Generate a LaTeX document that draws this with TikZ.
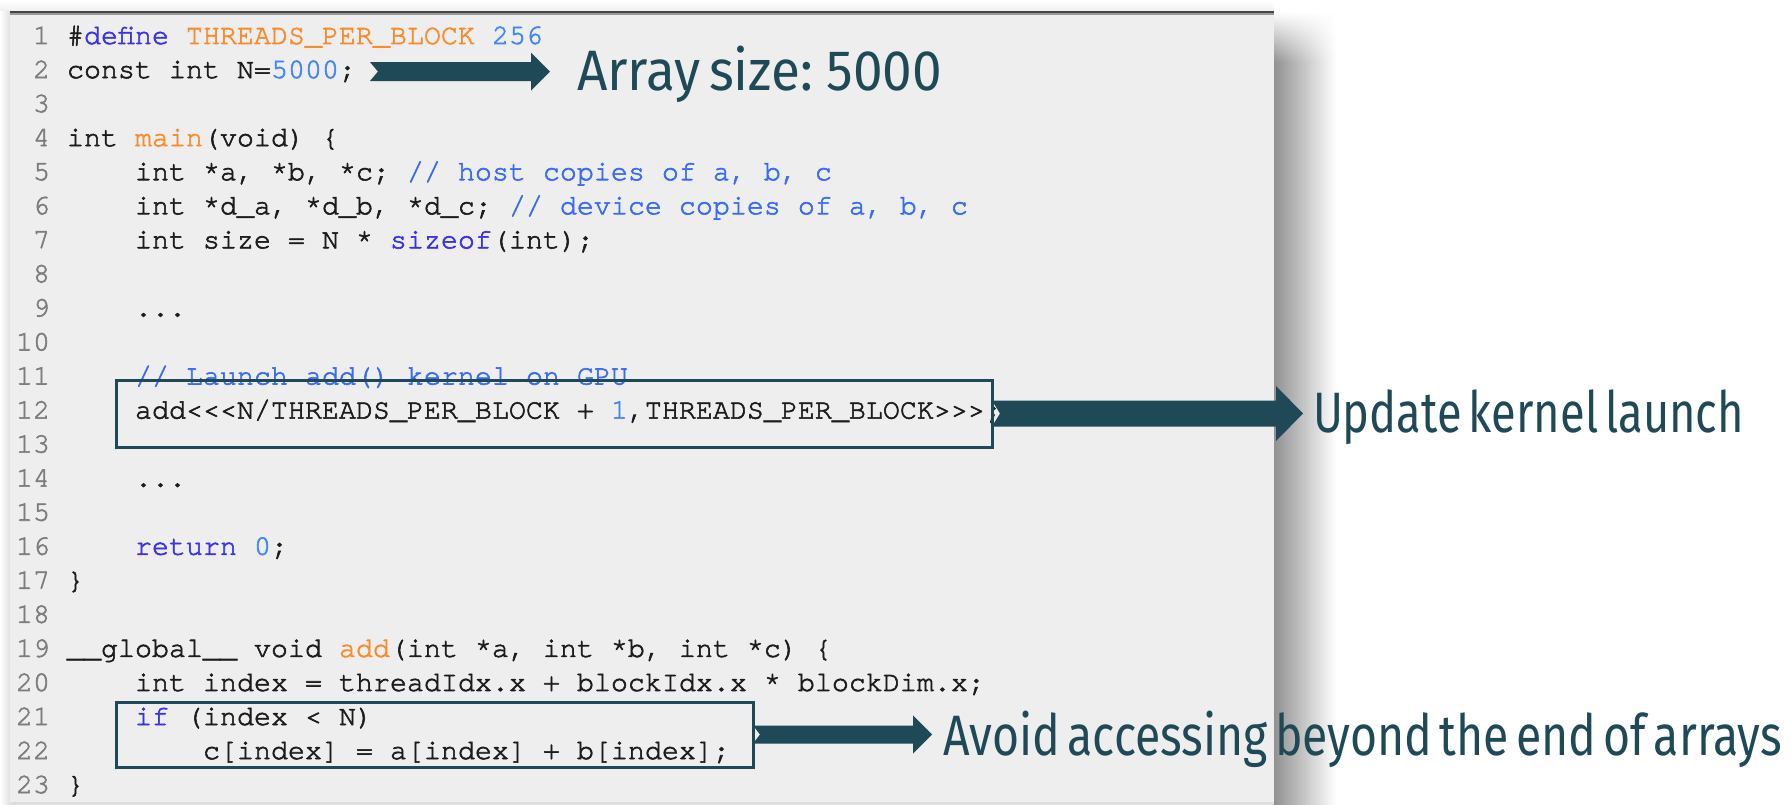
\documentclass[tikz,border=0pt]{standalone}
\usepackage{fontspec}
\usepackage{graphicx}
\setmonofont{TeX Gyre Cursor}
\newfontfamily\annfont{Fira Sans}[WordSpace=0.6]
\usetikzlibrary{calc,fadings}

\definecolor{panelbg}{RGB}{238,238,238}
\definecolor{ink}{RGB}{28,28,28}
\definecolor{lnum}{RGB}{125,125,125}
\definecolor{kw}{RGB}{58,52,228}
\definecolor{org}{RGB}{248,140,45}
\definecolor{num}{RGB}{64,134,250}
\definecolor{cmt}{RGB}{58,108,242}
\definecolor{teal}{RGB}{31,73,86}

\tikzfading[name=whiteontop, top color=transparent!0, bottom color=transparent!100]

\newcommand\codefnt{\ttfamily\fontsize{28.33}{34}\selectfont}
\newcommand\notefnt{\annfont\fontsize{57}{60}\selectfont}
% slightly heavier glyphs for the thin typewriter face (fill + outline)
\newcommand\heavyon{\special{pdf:literal direct q 2 Tr 0.6 w}}
\newcommand\heavyoff{\special{pdf:literal direct Q}}

% one source line: line number, indent (in characters), node name, text
\newcommand\cl[4]{\node[code] (#3) at ({67+17*#2},{44+34.05*(#1-1)}) {#4};}

% block arrow: tail, tip, shaft half-height, head half-height, head length, notch depth
\newcommand\blockarrow[6]{%
  \fill[teal] let \p1=(#1), \p2=(#2) in
    (\x1+#6pt,\y1) -- (\x1,\y1+#3pt) -- (\x2-#5pt,\y1+#3pt) -- (\x2-#5pt,\y1+#4pt)
    -- (\x2,\y1) -- (\x2-#5pt,\y1-#4pt) -- (\x2-#5pt,\y1-#3pt) -- (\x1,\y1-#3pt) -- cycle;}

\tikzset{
  code/.style={anchor=base west, inner sep=0pt, outer sep=0pt, font=\codefnt, text=ink,
    execute at begin node=\heavyon, execute at end node=\heavyoff},
  lno/.style={anchor=base east, inner sep=0pt, outer sep=0pt, font=\codefnt, text=lnum,
    execute at begin node=\heavyon, execute at end node=\heavyoff},
  hlbox/.style={draw=teal, line width=3pt, inner sep=0pt, outer sep=0pt, anchor=north west},
  note/.style={anchor=base west, inner sep=0pt, outer sep=0pt, font=\notefnt, text=teal},
}

\begin{document}
\begin{tikzpicture}[x=1pt,y=-1pt]
\useasboundingbox (0,0) rectangle (1791,805);
\fill[white] (0,0) rectangle (1791,805);

% soft outer shadow of the editor window
\fill[left color=white, right color=black!12] (0,11) rectangle (10,805);
\fill[top color=white, bottom color=black!6] (0,0) rectangle (1274,11);
\fill[left color=black!43, right color=white] (1274,14) rectangle (1336,805);
\fill[white, path fading=whiteontop] (1274,12) rectangle (1336,62);

% editor window
\fill[panelbg] (10,11) rectangle (1274,805);
\fill[black!73] (10,10.7) rectangle (1274,13.5);
\fill[black!40] (10,13.5) rectangle (1274,15);
\fill[black!13] (10,802) rectangle (1274,805);

% line numbers
\foreach \n in {1,...,23}
  \node[lno] (ln\n) at (50,{44+34.05*(\n-1)}) {\n};

% source text
\cl{1}{0}{c1}{\#\textcolor{kw}{define} \textcolor{org}{THREADS\_PER\_BLOCK} \textcolor{num}{256}}
\cl{2}{0}{c2}{const int N=\textcolor{num}{5000};}
\cl{4}{0}{c4}{int \textcolor{org}{main}(void) \{}
\cl{5}{4}{c5}{int *a, *b, *c; \textcolor{cmt}{// host copies of a, b, c}}
\cl{6}{4}{c6}{int *d\_a, *d\_b, *d\_c; \textcolor{cmt}{// device copies of a, b, c}}
\cl{7}{4}{c7}{int size = N * \textcolor{kw}{sizeof}(int);}
\cl{9}{4}{c9}{...}
\cl{11}{4}{c11}{\textcolor{cmt}{// Launch add() kernel on GPU}}
\cl{12}{4}{c12}{add<<<N/THREADS\_PER\_BLOCK + \textcolor{num}{1},THREADS\_PER\_BLOCK>>>;}
\cl{14}{4}{c14}{...}
\cl{16}{4}{c16}{\textcolor{kw}{return} \textcolor{num}{0};}
\cl{17}{0}{c17}{\}}
\cl{19}{0}{c19}{\_\_global\_\_ void \textcolor{org}{add}(int *a, int *b, int *c) \{}
\cl{20}{4}{c20}{int index = threadIdx.x + blockIdx.x * blockDim.x;}
\cl{21}{4}{c21}{\textcolor{kw}{if} (index < N)}
\cl{22}{8}{c22}{c[index] = a[index] + b[index];}
\cl{23}{0}{c23}{\}}

% highlighted regions
\node[hlbox, minimum width=876pt, minimum height=67pt] (box1) at (116,380) {};
\node[hlbox, minimum width=637pt, minimum height=65pt] (box2) at (116,702) {};

% annotations
\node[note] (tA) at (577,91)  {\resizebox{365pt}{\height}{Array size: 5000}};
\node[note] (tB) at (1313,432) {\resizebox{431pt}{\height}{Update kernel launch}};
\node[note] (tC) at (943,755) {\resizebox{839pt}{\height}{Avoid accessing beyond the end of arrays}};

\coordinate (tailA) at ($(c2.base east)+(14,-6.5)$);
\coordinate (tipA) at ($(tA.west)+(-27,0)$);
\coordinate (tipB) at ($(tB.west)+(-10,0)$);
\coordinate (tipC) at ($(tC.west)+(-11,0)$);

\blockarrow{tailA}{tipA}{9.5}{19}{19}{8}
\blockarrow{box1.east}{tipB}{13}{27.5}{27}{8}
\blockarrow{box2.east}{tipC}{9}{19}{19}{7}
\end{tikzpicture}
\end{document}
